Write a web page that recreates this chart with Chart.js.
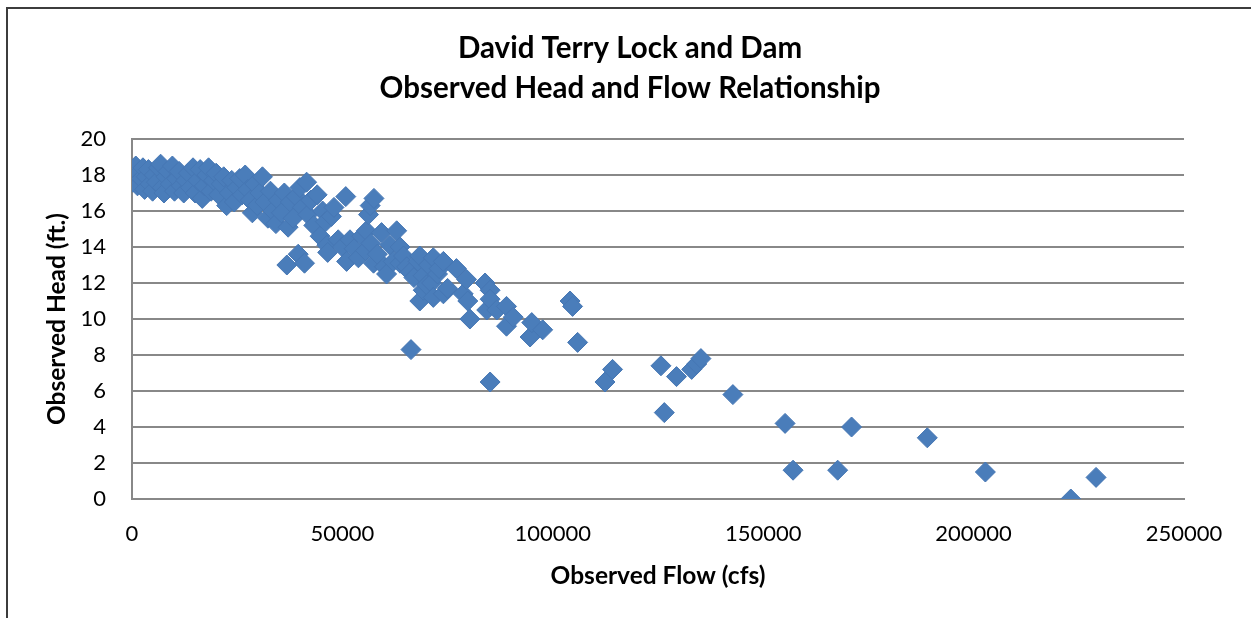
<!DOCTYPE html>
<html>
<head>
<meta charset="utf-8">
<title>David Terry Lock and Dam</title>
<script src="https://cdn.jsdelivr.net/npm/chart.js@4"></script>
<style>
  html, body { margin: 0; padding: 0; background: #ffffff; }
  #wrap { position: relative; width: 1251px; height: 618px; }
  canvas { display: block; }
</style>
</head>
<body>
<div id="wrap"><canvas id="chart" width="1251" height="618"></canvas></div>
<script>
// Observed flow (cfs) and head (ft.) pairs, one entry per observation
const flowCfs = [
  200, 400, 700, 900, 1300, 1600, 2200, 2600, 3000, 3400, 3900, 4300, 4900, 5300, 5800, 6300,
  6800, 7200, 7600, 8100, 8600, 9100, 9600, 10100, 10600, 11200, 11700, 12300, 12800, 13400,
  13900, 14500, 15000, 15600, 16200, 16700, 17200, 17800, 18200, 18800, 19400, 20000, 20600,
  21200, 21800, 22500, 23100, 23700, 24300, 24900, 25600, 26200, 26900, 27500, 28100, 28600,
  29200, 29800, 30400, 31000, 31600, 32300, 32900, 33500, 34200, 34800, 35500, 36200, 36800,
  37100, 37600, 38300, 39000, 39500, 39900, 40500, 41000, 41500, 41800, 42500, 43200, 44000,
  44700, 45300, 46000, 46300, 46500, 47400, 48000, 49000, 50000, 50800, 51000, 51800, 52800,
  53800, 54600, 55500, 55700, 56200, 56600, 56800, 57500, 57400, 58300, 59300, 60000, 60500,
  61300, 62100, 62900, 63700, 63700, 64500, 65300, 66100, 66300, 67000, 68000, 68400, 68400,
  69200, 69200, 70000, 70500, 71200, 71600, 71600, 72600, 73000, 74000, 74000, 75000, 77100,
  78700, 79500, 79800, 80300, 83900, 84300, 85100, 85100, 85100, 86700, 89000, 89000, 90600,
  94600, 95000, 97600, 104100, 104700, 105900, 112400, 114200, 125700, 126500, 129400, 133000,
  134200, 135200, 142800, 155200, 157100, 167700, 171000, 189000, 202800, 223100, 229100
];
const headFt = [
  17.6, 18.3, 17.9, 18.5, 17.4, 18.1, 17.8, 18.4, 17.2, 17.9, 18.3, 17.5, 17.1, 18.0, 17.6, 18.4,
  18.6, 17.3, 17.0, 17.9, 18.2, 17.5, 18.5, 17.1, 17.8, 18.2, 17.4, 17.0, 17.7, 18.1,
  17.3, 18.4, 17.0, 17.7, 18.3, 16.7, 17.4, 18.0, 18.4, 17.1, 17.7, 18.1, 16.9,
  17.5, 17.9, 16.3, 17.0, 17.7, 16.5, 17.3, 17.8, 16.9, 18.0, 17.2, 16.6, 15.9,
  17.5, 16.3, 17.0, 17.9, 16.5, 15.6, 17.1, 16.0, 15.3, 16.6, 15.9, 17.0, 13.0,
  15.1, 16.5, 15.6, 16.8, 13.6, 17.3, 16.2, 13.1, 17.6, 15.8, 16.6, 15.2, 16.9,
  14.6, 16.0, 15.4, 14.1, 13.7, 15.7, 16.2, 14.4, 14.0, 16.8, 13.2, 14.4, 13.9,
  13.4, 14.6, 13.8, 14.9, 15.8, 16.3, 14.2, 16.7, 13.1, 13.6, 14.8, 12.9, 12.5,
  14.1, 13.2, 14.9, 14.0, 13.1, 13.5, 12.9, 12.6, 8.3, 12.3, 13.2, 13.5, 11.0,
  12.4, 11.6, 11.9, 13.0, 12.0, 13.4, 11.2, 12.5, 12.8, 13.2, 11.4, 11.7, 12.8,
  11.4, 12.2, 11.0, 10.0, 12.0, 10.5, 11.6, 11.1, 6.5, 10.5, 10.7, 9.6, 10.1,
  9.0, 9.8, 9.4, 11.0, 10.7, 8.7, 6.5, 7.2, 7.4, 4.8, 6.8, 7.2,
  7.5, 7.8, 5.8, 4.2, 1.6, 1.6, 4.0, 3.4, 1.5, 0.0, 1.2
];

// Axis tick values
const flowTicks = [0, 50000, 100000, 150000, 200000, 250000];
const headTicks = [0, 2, 4, 6, 8, 10, 12, 14, 16, 18, 20];

const titleLines = ['David Terry Lock and Dam', 'Observed Head and Flow Relationship'];
const xTitle = 'Observed Flow (cfs)';
const yTitle = 'Observed Head (ft.)';

const points = flowCfs.map((f, i) => ({ x: f, y: headFt[i] }));

const FONT = 'Lato, "Open Sans", "Liberation Sans", sans-serif';
const GRID = '#888888';

// Outer frame of the chart object
const framePlugin = {
  id: 'frame',
  beforeDraw(chart) {
    const ctx = chart.ctx;
    ctx.save();
    ctx.fillStyle = '#ffffff';
    ctx.fillRect(0, 0, chart.width, chart.height);
    ctx.strokeStyle = '#3c3c3c';
    ctx.lineWidth = 2;
    ctx.beginPath();
    ctx.moveTo(7, chart.height + 2);
    ctx.lineTo(7, 8);
    ctx.lineTo(chart.width + 2, 8);
    ctx.stroke();
    ctx.restore();
  }
};

new Chart(document.getElementById('chart'), {
  type: 'scatter',
  data: {
    datasets: [{
      label: 'Observed',
      data: points,
      pointStyle: 'rectRot',
      pointRadius: 10,
      pointHoverRadius: 10,
      backgroundColor: '#4A7DBA',
      borderColor: '#4677B4',
      borderWidth: 1
    }]
  },
  options: {
    responsive: false,
    animation: false,
    devicePixelRatio: 1,
    layout: { padding: { left: 9, right: 0, top: 0, bottom: 0 } },
    plugins: {
      legend: { display: false },
      tooltip: { enabled: false },
      title: {
        display: true,
        text: titleLines,
        color: '#000000',
        font: { family: FONT, size: 29.5, weight: 'bold', lineHeight: 40 / 29.5 },
        padding: { top: 28, bottom: 31 }
      }
    },
    scales: {
      x: {
        type: 'linear',
        position: 'bottom',
        min: 0,
        max: 250000,
        afterBuildTicks(scale) { scale.ticks = flowTicks.map(v => ({ value: v })); },
        afterFit(scale) { scale.height = 119; },
        ticks: {
          color: '#000000',
          font: { family: FONT, size: 22 },
          padding: 22,
          maxRotation: 0,
          callback: v => String(v)
        },
        grid: { display: false, drawTicks: false },
        border: { display: true, color: GRID, width: 2 },
        title: {
          display: true,
          text: xTitle,
          color: '#000000',
          font: { family: FONT, size: 24.5, weight: 'bold', lineHeight: 1.2 },
          padding: { top: 0, bottom: 27 }
        }
      },
      y: {
        type: 'linear',
        position: 'left',
        min: 0,
        max: 20,
        afterBuildTicks(scale) { scale.ticks = headTicks.map(v => ({ value: v })); },
        afterFit(scale) { scale.width = 123; },
        ticks: {
          color: '#000000',
          font: { family: FONT, size: 22 },
          padding: 26,
          callback: v => String(v)
        },
        grid: { color: GRID, lineWidth: 2, drawTicks: false },
        border: { display: true, color: GRID, width: 2 },
        title: {
          display: true,
          text: yTitle,
          color: '#000000',
          font: { family: FONT, size: 24.5, weight: 'bold', lineHeight: 1.2 },
          padding: { top: 33, bottom: 0 }
        }
      },
      spacer: {
        type: 'linear',
        position: 'right',
        display: true,
        afterFit(scale) { scale.width = 67; },
        ticks: { display: false },
        grid: { display: false, drawTicks: false },
        border: { display: false }
      }
    }
  },
  plugins: [framePlugin]
});
</script>
</body>
</html>
